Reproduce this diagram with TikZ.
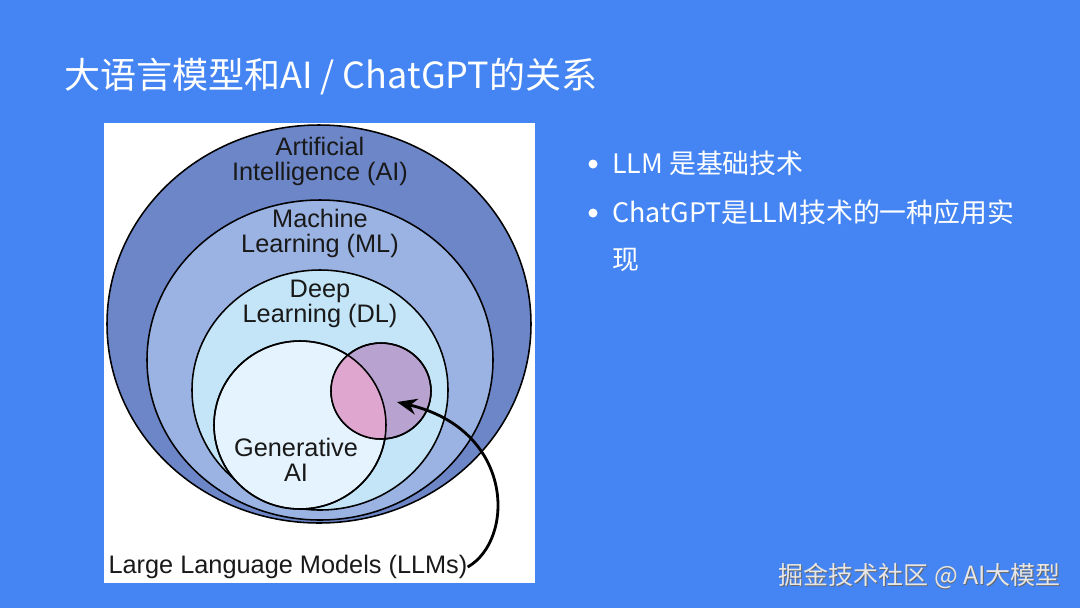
\documentclass[tikz,border=0pt]{standalone}
\usepackage{fontspec}
\setmainfont{Liberation Sans}
\newfontfamily\cjk{Noto Sans CJK SC}
\usetikzlibrary{shapes.geometric,arrows.meta}
\definecolor{slideBlue}{HTML}{4485F3}
\definecolor{aiBlue}{HTML}{6C86C8}
\definecolor{mlBlue}{HTML}{9AB3E3}
\definecolor{dlCyan}{HTML}{C3E5F7}
\definecolor{genWhite}{HTML}{E4F3FD}
\definecolor{llmPurple}{HTML}{B7A2D0}
\definecolor{llmPink}{HTML}{DFA6CF}
\definecolor{markGrey}{HTML}{E6E6E6}
\newcommand{\PX}{0.025cm}
\tikzset{
    RING/.style={shape=ellipse, draw=black, line width=1.1pt, inner sep=0mm},
    AI_RING/.style={RING, fill=aiBlue, minimum width=424*\PX, minimum height=398*\PX},
    ML_RING/.style={RING, fill=mlBlue, minimum width=346*\PX, minimum height=320*\PX},
    DL_RING/.style={RING, fill=dlCyan, minimum width=256*\PX, minimum height=240*\PX},
    GEN_RING/.style={RING, fill=genWhite, minimum width=172*\PX, minimum height=168*\PX},
    LLM_RING/.style={RING, fill=llmPurple, minimum width=100*\PX, minimum height=96*\PX},
    EMPTY/.style={inner sep=0mm, align=center, font={\fontsize{18}{17.8}\selectfont},
        text=black!90},
    TITLE/.style={inner sep=0mm, anchor=west, text=white,
        font={\cjk\fontsize{25.6}{28}\selectfont}},
    BULLET_TEXT/.style={inner sep=0mm, anchor=west, text=white,
        font={\cjk\fontsize{19.1}{22}\selectfont}},
    BULLET_DOT/.style={shape=circle, fill=white, inner sep=0mm, minimum size=9*\PX},
    ARROW/.style={draw=black, line width=2pt, -{Stealth[length=5mm, width=4mm]}}
}
\pgfdeclarelayer{backlayer}
\pgfdeclarelayer{nodelayer}
\pgfsetlayers{backlayer,nodelayer,main}

\begin{document}
\begin{tikzpicture}[x=\PX, y=-\PX]
    \begin{pgfonlayer}{backlayer}
        \fill[slideBlue] (0,0) rectangle (1080,608);
        \fill[white] (104,123) rectangle (535,583);
    \end{pgfonlayer}
    \useasboundingbox (0,0) rectangle (1080,608);
    \begin{pgfonlayer}{nodelayer}
        \node [AI_RING] (ai) at (319,324) {};
        \node [ML_RING] (ml) at (320,360) {};
        \node [DL_RING] (dl) at (320,390) {};
        \node [GEN_RING] (gen) at (300,425) {};
        \node [LLM_RING] (llm) at (381,391) {};
        \begin{scope}
            \clip (300,425) ellipse [x radius=86, y radius=84];
            \fill[llmPink] (381,391) ellipse [x radius=50, y radius=48];
        \end{scope}
        \draw[line width=1.1pt] (300,425) ellipse [x radius=86, y radius=84];
        \draw[line width=1.1pt] (381,391) ellipse [x radius=50, y radius=48];
        \node [EMPTY] (ailabel) at (320,161) {Artificial\\Intelligence (AI)};
        \node [EMPTY] (mllabel) at (320,233) {Machine\\Learning (ML)};
        \node [EMPTY] (dllabel) at (320,304) {Deep\\Learning (DL)};
        \node [EMPTY] (genlabel) at (296,460) {Generative\\AI};
        \node [EMPTY] (llmlabel) at (288,567) {Large Language Models (LLMs)};
        \node [TITLE] (title) at (64,77) {大语言模型和AI / ChatGPT的关系};
        \node [BULLET_DOT] (dot1) at (593,164) {};
        \node [BULLET_TEXT] (item1) at (612,163) {LLM 是基础技术};
        \node [BULLET_DOT] (dot2) at (593,213) {};
        \node [BULLET_TEXT] (item2) at (612,212) {ChatGPT是LLM技术的一种应用实};
        \node [BULLET_TEXT] (item2b) at (612,260) {现};
        \node [TITLE, text=black!60, font={\cjk\fontsize{17.8}{20}\selectfont}] (markshadow) at (778.8,576.8) {掘金技术社区 @ AI大模型};
        \node [TITLE, text=markGrey, font={\cjk\fontsize{17.8}{20}\selectfont}] (mark) at (778,576) {掘金技术社区 @ AI大模型};
    \end{pgfonlayer}
    \draw[ARROW] (llmlabel.east) .. controls (515,540) and (515,430) .. (397,402);
\end{tikzpicture}
\end{document}
